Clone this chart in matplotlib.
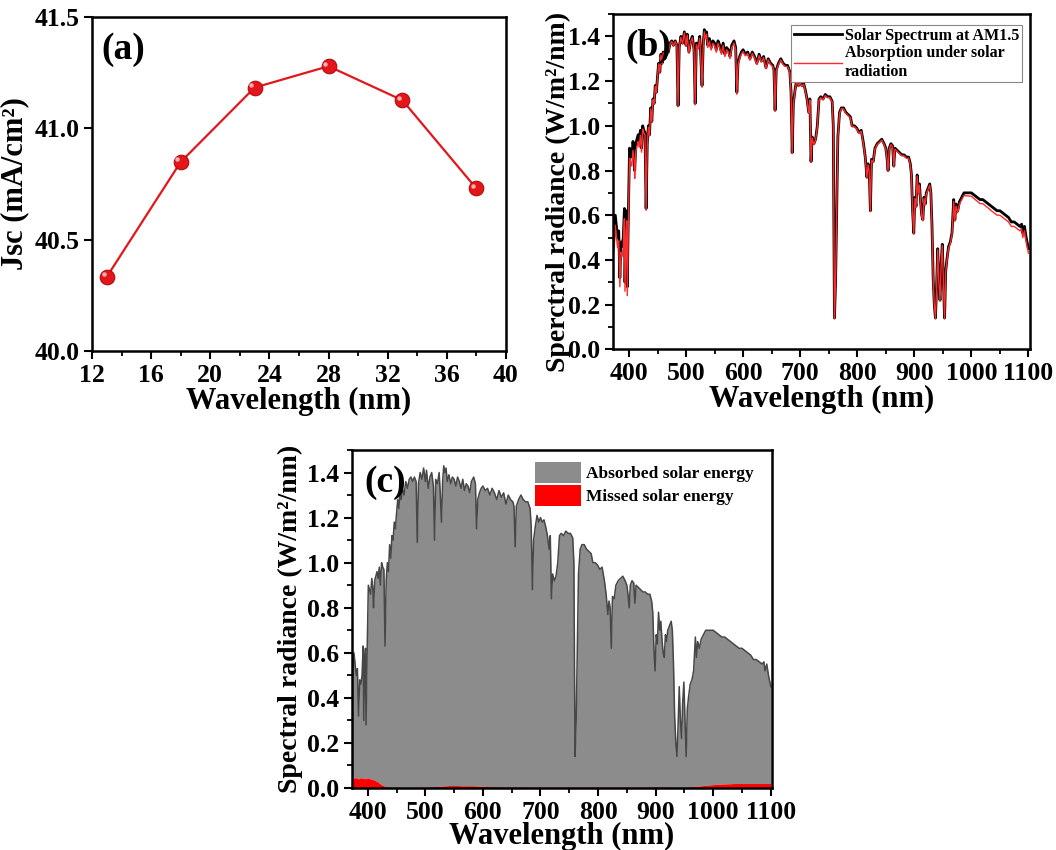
import numpy as np
import matplotlib
matplotlib.use("Agg")
from matplotlib import pyplot as plt
from matplotlib.patches import Patch
from matplotlib.ticker import MultipleLocator

plt.rcParams['font.family'] = ['Liberation Serif', 'DejaVu Serif']
plt.rcParams['font.weight'] = 'bold'
plt.rcParams['axes.labelweight'] = 'bold'

# Jsc vs thickness
jscX = [13, 18, 23, 28, 33, 38]
jscY = [40.333, 40.849, 41.183, 41.279, 41.126, 40.730]

# AM1.5 spectrum (nm, W/m2/nm) and the part the cell misses
wavelength = [
    370, 373, 376, 378, 380, 382, 384, 386, 388, 390,
    392, 393, 395, 396, 397, 399, 401, 403, 405, 407,
    409, 410, 412, 414, 416, 418, 420, 422, 424, 426,
    428, 430, 432, 434, 436, 438, 440, 442, 444, 446,
    448, 450, 452, 454, 456, 458, 460, 463, 466, 469,
    472, 475, 478, 481, 484, 486, 488, 491, 494, 497,
    500, 502, 505, 508, 511, 514, 516, 518, 521, 524,
    526, 528, 530, 532, 534, 536, 538, 541, 544, 547,
    550, 553, 556, 559, 562, 565, 568, 571, 574, 577,
    580, 584, 587, 589, 591, 594, 597, 600, 604, 608,
    612, 616, 620, 624, 628, 632, 636, 640, 644, 648,
    652, 654, 656, 658, 662, 666, 670, 674, 678, 682,
    684, 686, 688, 691, 694, 697, 700, 703, 706, 709,
    712, 715, 717, 719, 721, 724, 727, 730, 733, 736,
    740, 744, 748, 752, 756, 758, 760, 762, 764, 766,
    769, 772, 776, 780, 784, 788, 791, 795, 799, 803,
    807, 811, 814, 817, 819, 821, 823, 825, 828, 831,
    835, 839, 843, 847, 850, 852, 854, 856, 859, 862,
    864, 866, 870, 874, 878, 882, 886, 890, 893, 895,
    897, 899, 901, 903, 905, 907, 909, 911, 913, 915,
    917, 919, 921, 924, 927, 929, 931, 933, 935, 937,
    939, 941, 943, 945, 947, 949, 951, 953, 955, 957,
    960, 963, 966, 969, 971, 973, 976, 979, 983, 987,
    991, 995, 1000, 1005, 1010, 1015, 1020, 1025, 1030, 1035,
    1040, 1045, 1050, 1055, 1060, 1065, 1070, 1075, 1080, 1085,
    1088, 1090, 1093, 1096, 1100]

solar = [
    0.42, 0.47, 0.60, 0.55, 0.50, 0.53, 0.32, 0.48, 0.46, 0.50,
    0.63, 0.30, 0.58, 0.62, 0.28, 0.62, 0.90, 0.88, 0.86, 0.93,
    0.88, 0.80, 0.92, 0.94, 0.96, 0.93, 0.98, 0.90, 1.00, 0.98,
    0.97, 0.63, 0.92, 1.00, 0.96, 1.08, 1.02, 1.12, 1.10, 1.18,
    1.15, 1.22, 1.28, 1.24, 1.32, 1.28, 1.33, 1.30, 1.36, 1.33,
    1.37, 1.38, 1.36, 1.38, 1.36, 1.09, 1.35, 1.40, 1.37, 1.42,
    1.36, 1.41, 1.33, 1.38, 1.40, 1.34, 1.10, 1.37, 1.35, 1.40,
    1.30, 1.18, 1.36, 1.43, 1.40, 1.42, 1.36, 1.39, 1.35, 1.38,
    1.37, 1.34, 1.38, 1.36, 1.33, 1.37, 1.32, 1.35, 1.34, 1.31,
    1.36, 1.38, 1.35, 1.15, 1.28, 1.31, 1.33, 1.34, 1.32, 1.33,
    1.30, 1.33, 1.31, 1.28, 1.32, 1.29, 1.31, 1.26, 1.30, 1.28,
    1.27, 1.25, 1.07, 1.25, 1.28, 1.30, 1.28, 1.27, 1.27, 1.24,
    1.15, 0.88, 1.10, 1.16, 1.21, 1.18, 1.20, 1.18, 1.19, 1.16,
    1.12, 1.06, 1.12, 0.84, 0.95, 0.92, 0.94, 1.00, 1.12, 1.13,
    1.12, 1.14, 1.13, 1.13, 1.11, 1.00, 0.14, 0.30, 0.62, 0.95,
    1.06, 1.08, 1.08, 1.06, 1.05, 1.04, 1.00, 1.00, 0.99, 0.97,
    0.98, 0.92, 0.86, 0.77, 0.83, 0.80, 0.62, 0.85, 0.84, 0.90,
    0.92, 0.93, 0.94, 0.92, 0.90, 0.86, 0.80, 0.90, 0.92, 0.91,
    0.82, 0.90, 0.89, 0.88, 0.87, 0.87, 0.86, 0.86, 0.83, 0.78,
    0.62, 0.52, 0.68, 0.64, 0.78, 0.70, 0.74, 0.66, 0.60, 0.58,
    0.68, 0.65, 0.70, 0.72, 0.74, 0.70, 0.55, 0.32, 0.20, 0.14,
    0.28, 0.45, 0.30, 0.22, 0.38, 0.47, 0.30, 0.14, 0.35, 0.40,
    0.46, 0.48, 0.52, 0.67, 0.58, 0.65, 0.62, 0.66, 0.68, 0.70,
    0.70, 0.70, 0.70, 0.69, 0.68, 0.67, 0.67, 0.66, 0.65, 0.64,
    0.63, 0.62, 0.62, 0.61, 0.60, 0.59, 0.57, 0.57, 0.56, 0.55,
    0.56, 0.52, 0.55, 0.50, 0.45]

missed = [
    0.035, 0.040, 0.045, 0.045, 0.045, 0.045, 0.040, 0.045, 0.045, 0.045,
    0.045, 0.040, 0.045, 0.045, 0.040, 0.045, 0.045, 0.042, 0.040, 0.040,
    0.038, 0.036, 0.035, 0.032, 0.030, 0.026, 0.022, 0.018, 0.015, 0.012,
    0.010, 0.008, 0.007, 0.006, 0.005, 0.004, 0.004, 0.003, 0.003, 0.003,
    0.003, 0.003, 0.003, 0.003, 0.003, 0.003, 0.003, 0.003, 0.003, 0.003,
    0.003, 0.003, 0.003, 0.003, 0.003, 0.004, 0.004, 0.004, 0.004, 0.004,
    0.004, 0.004, 0.005, 0.005, 0.006, 0.006, 0.006, 0.007, 0.007, 0.008,
    0.008, 0.008, 0.009, 0.009, 0.010, 0.010, 0.010, 0.011, 0.011, 0.011,
    0.011, 0.011, 0.011, 0.011, 0.010, 0.010, 0.010, 0.010, 0.010, 0.010,
    0.010, 0.010, 0.009, 0.009, 0.009, 0.008, 0.008, 0.008, 0.007, 0.007,
    0.007, 0.006, 0.006, 0.006, 0.006, 0.005, 0.005, 0.005, 0.005, 0.005,
    0.005, 0.005, 0.005, 0.005, 0.005, 0.005, 0.005, 0.005, 0.005, 0.005,
    0.004, 0.004, 0.004, 0.004, 0.004, 0.004, 0.004, 0.004, 0.004, 0.004,
    0.004, 0.004, 0.004, 0.004, 0.004, 0.004, 0.004, 0.004, 0.004, 0.004,
    0.004, 0.004, 0.004, 0.004, 0.004, 0.004, 0.001, 0.002, 0.003, 0.004,
    0.004, 0.004, 0.004, 0.004, 0.004, 0.004, 0.004, 0.004, 0.004, 0.004,
    0.004, 0.004, 0.004, 0.004, 0.004, 0.004, 0.004, 0.004, 0.004, 0.004,
    0.004, 0.004, 0.004, 0.004, 0.004, 0.004, 0.004, 0.004, 0.004, 0.004,
    0.004, 0.004, 0.004, 0.004, 0.004, 0.004, 0.005, 0.005, 0.005, 0.005,
    0.005, 0.005, 0.005, 0.005, 0.005, 0.005, 0.005, 0.005, 0.005, 0.005,
    0.005, 0.005, 0.005, 0.005, 0.005, 0.005, 0.004, 0.003, 0.002, 0.002,
    0.003, 0.004, 0.003, 0.003, 0.004, 0.004, 0.003, 0.002, 0.004, 0.005,
    0.006, 0.006, 0.007, 0.008, 0.008, 0.009, 0.009, 0.010, 0.011, 0.012,
    0.013, 0.014, 0.015, 0.016, 0.017, 0.018, 0.018, 0.019, 0.019, 0.020,
    0.020, 0.020, 0.020, 0.020, 0.020, 0.020, 0.020, 0.020, 0.020, 0.020,
    0.020, 0.020, 0.020, 0.020, 0.020]

wl = np.array(wavelength)
am15 = np.array(solar)
lost = np.array(missed)
absorbed = am15 - lost

TICK_FS = 18.5
LABEL_FS = 22
SPEC_LABEL_FS = 20
PANEL_FS = 27


def styleAxes(ax):
    for sp in ax.spines.values():
        sp.set_linewidth(1.8)
    ax.tick_params(which='major', direction='out', length=6, width=1.5,
                   labelsize=TICK_FS, pad=3)
    ax.tick_params(which='minor', direction='out', length=3.5, width=1.3)
    for lbl in ax.get_xticklabels() + ax.get_yticklabels():
        lbl.set_fontweight('bold')


fig = plt.figure(figsize=(10.56, 8.5), dpi=100)

# (a) Jsc
axA = fig.add_axes([0.0871, 0.587, 0.392, 0.393])
axA.plot(jscX, jscY, color='#e3161c', lw=1.6, zorder=2)
axA.plot(jscX, jscY, 'o', ms=10.5, mfc='#e3161c', mec='#b00c10', mew=0.8, zorder=3)
axA.plot(np.array(jscX) - 0.22, np.array(jscY) + 0.012, 'o', ms=3.2,
         mfc='#ffb0b0', mec='none', zorder=4)
axA.set_xlim(12, 40)
axA.set_ylim(40.0, 41.5)
axA.xaxis.set_major_locator(MultipleLocator(4))
axA.xaxis.set_minor_locator(MultipleLocator(2))
axA.yaxis.set_major_locator(MultipleLocator(0.5))
axA.set_xlabel('Wavelength (nm)', fontsize=LABEL_FS, labelpad=0)
axA.set_ylabel('Jsc (mA/cm²)', fontsize=LABEL_FS, labelpad=4)
axA.text(0.022, 0.955, '(a)', transform=axA.transAxes, fontsize=PANEL_FS,
         fontweight='bold', va='top', ha='left')
styleAxes(axA)

# (b) solar spectrum vs absorption
axB = fig.add_axes([0.5805, 0.589, 0.3945, 0.3945])
axB.plot(wl, am15, color='black', lw=2.0, label='Solar Spectrum at AM1.5')
axB.plot(wl, absorbed, color='#ff2a2a', lw=1.0,
         label='Absorption under solar\nradiation')
axB.set_xlim(372, 1102)
axB.set_ylim(0, 1.5)
axB.xaxis.set_major_locator(MultipleLocator(100))
axB.xaxis.set_minor_locator(MultipleLocator(50))
axB.yaxis.set_major_locator(MultipleLocator(0.2))
axB.yaxis.set_minor_locator(MultipleLocator(0.1))
axB.set_xlabel('Wavelength (nm)', fontsize=LABEL_FS, labelpad=0)
axB.set_ylabel('Sperctral radiance (W/m²/nm)', fontsize=SPEC_LABEL_FS, labelpad=3)
axB.yaxis.set_label_coords(-0.1, 0.47)
axB.text(0.03, 0.955, '(b)', transform=axB.transAxes, fontsize=PANEL_FS,
         fontweight='bold', va='top', ha='left')
legB = axB.legend(loc='upper right', bbox_to_anchor=(1.0, 0.99), fancybox=False,
                  edgecolor='#888888', framealpha=1, handlelength=3.0,
                  handletextpad=0.2, borderpad=0.15, labelspacing=0.1,
                  prop={'family': 'Liberation Serif', 'weight': 'bold', 'size': 11.5})
legB.get_frame().set_linewidth(0.8)
styleAxes(axB)

# (c) absorbed vs missed energy
axC = fig.add_axes([0.333, 0.0729, 0.398, 0.3977])
axC.fill_between(wl, lost, am15, color='#8c8c8c', lw=0)
axC.plot(wl, am15, color='#474747', lw=1.1)
axC.fill_between(wl, 0, lost, color='#ff0000', lw=0)
axC.set_xlim(372, 1102)
axC.set_ylim(0, 1.5)
axC.xaxis.set_major_locator(MultipleLocator(100))
axC.xaxis.set_minor_locator(MultipleLocator(50))
axC.yaxis.set_major_locator(MultipleLocator(0.2))
axC.yaxis.set_minor_locator(MultipleLocator(0.1))
axC.set_xlabel('Wavelength (nm)', fontsize=LABEL_FS, labelpad=-1)
axC.set_ylabel('Spectral radiance (W/m²/nm)', fontsize=SPEC_LABEL_FS, labelpad=3)
axC.text(0.03, 0.955, '(c)', transform=axC.transAxes, fontsize=PANEL_FS,
         fontweight='bold', va='top', ha='left')
handlesC = [Patch(facecolor='#8c8c8c', edgecolor='none', label='Absorbed solar energy'),
            Patch(facecolor='#ff0000', edgecolor='none', label='Missed solar energy')]
axC.legend(handles=handlesC, loc='upper right', bbox_to_anchor=(0.985, 1.0),
           frameon=False, handlelength=2.6, handleheight=1.5, handletextpad=0.3,
           borderpad=0.2, labelspacing=0.1,
           prop={'family': 'Liberation Serif', 'weight': 'bold', 'size': 12.5})
styleAxes(axC)

fig.savefig('out.png', dpi=100)
